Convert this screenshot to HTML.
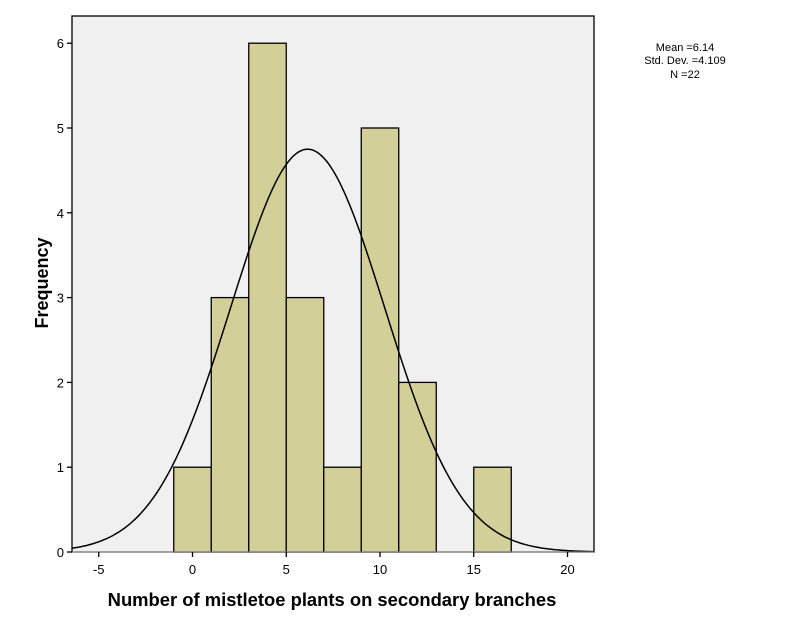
<!DOCTYPE html>
<html><head><meta charset="utf-8"><style>body{margin:0;background:#fff}svg{display:block;font-family:"Liberation Sans",Arial,sans-serif}</style></head>
<body>
<svg id="s" width="790" height="633" viewBox="0 0 790 633" xmlns="http://www.w3.org/2000/svg">
<rect x="72" y="16" width="522" height="536" fill="#f0f0f0" stroke="#000" stroke-width="1.3"/>
<g id="bars" fill="#d3cf98" stroke="#000" stroke-width="1.3"></g>
<path id="curve" fill="none" stroke="#000" stroke-width="1.5"/>
<line x1="72" y1="552" x2="594" y2="552" stroke="#999" stroke-width="1"/>
<g id="ticks" stroke="#000" stroke-width="1.3"></g>
<g id="lab" font-size="13" fill="#000"></g>
<text transform="translate(48,283) rotate(-90)" text-anchor="middle" font-size="18" font-weight="bold">Frequency</text>
<text x="332" y="606" text-anchor="middle" font-size="18.4" font-weight="bold">Number of mistletoe plants on secondary branches</text>
<g font-size="11" text-anchor="middle">
<text x="685" y="51">Mean =6.14</text>
<text x="685" y="64">Std. Dev. =4.109</text>
<text x="685" y="78">N =22</text>
</g>
</svg>
<script>
var X=function(v){return 192.5+18.75*v},Y=function(f){return 552-84.8*f};
var ns="http://www.w3.org/2000/svg";
function el(p,t,a,txt){var e=document.createElementNS(ns,t);for(var k in a)e.setAttribute(k,a[k]);if(txt!=null)e.textContent=txt;document.getElementById(p).appendChild(e);}
var data=[[-1,1],[1,3],[3,6],[5,3],[7,1],[9,5],[11,2],[15,1]];
data.forEach(function(d){el("bars","rect",{x:X(d[0]),y:Y(d[1]),width:37.5,height:84.8*d[1]});});
var p="";for(var px=72;px<=594;px+=2){var v=(px-192.5)/18.75;var f=4.75*Math.exp(-0.5*Math.pow((v-6.14)/4.109,2));p+=(px==72?"M":"L")+px+","+Y(f).toFixed(1);}
document.getElementById("curve").setAttribute("d",p);
for(var i=0;i<=6;i++){el("ticks","line",{x1:67,x2:72,y1:Y(i),y2:Y(i)});el("lab","text",{x:64,y:Y(i)+5,"text-anchor":"end"},i);}
[-5,0,5,10,15,20].forEach(function(v){el("ticks","line",{x1:X(v),x2:X(v),y1:552,y2:557});el("lab","text",{x:X(v),y:574,"text-anchor":"middle"},v);});
</script>
</body></html>
